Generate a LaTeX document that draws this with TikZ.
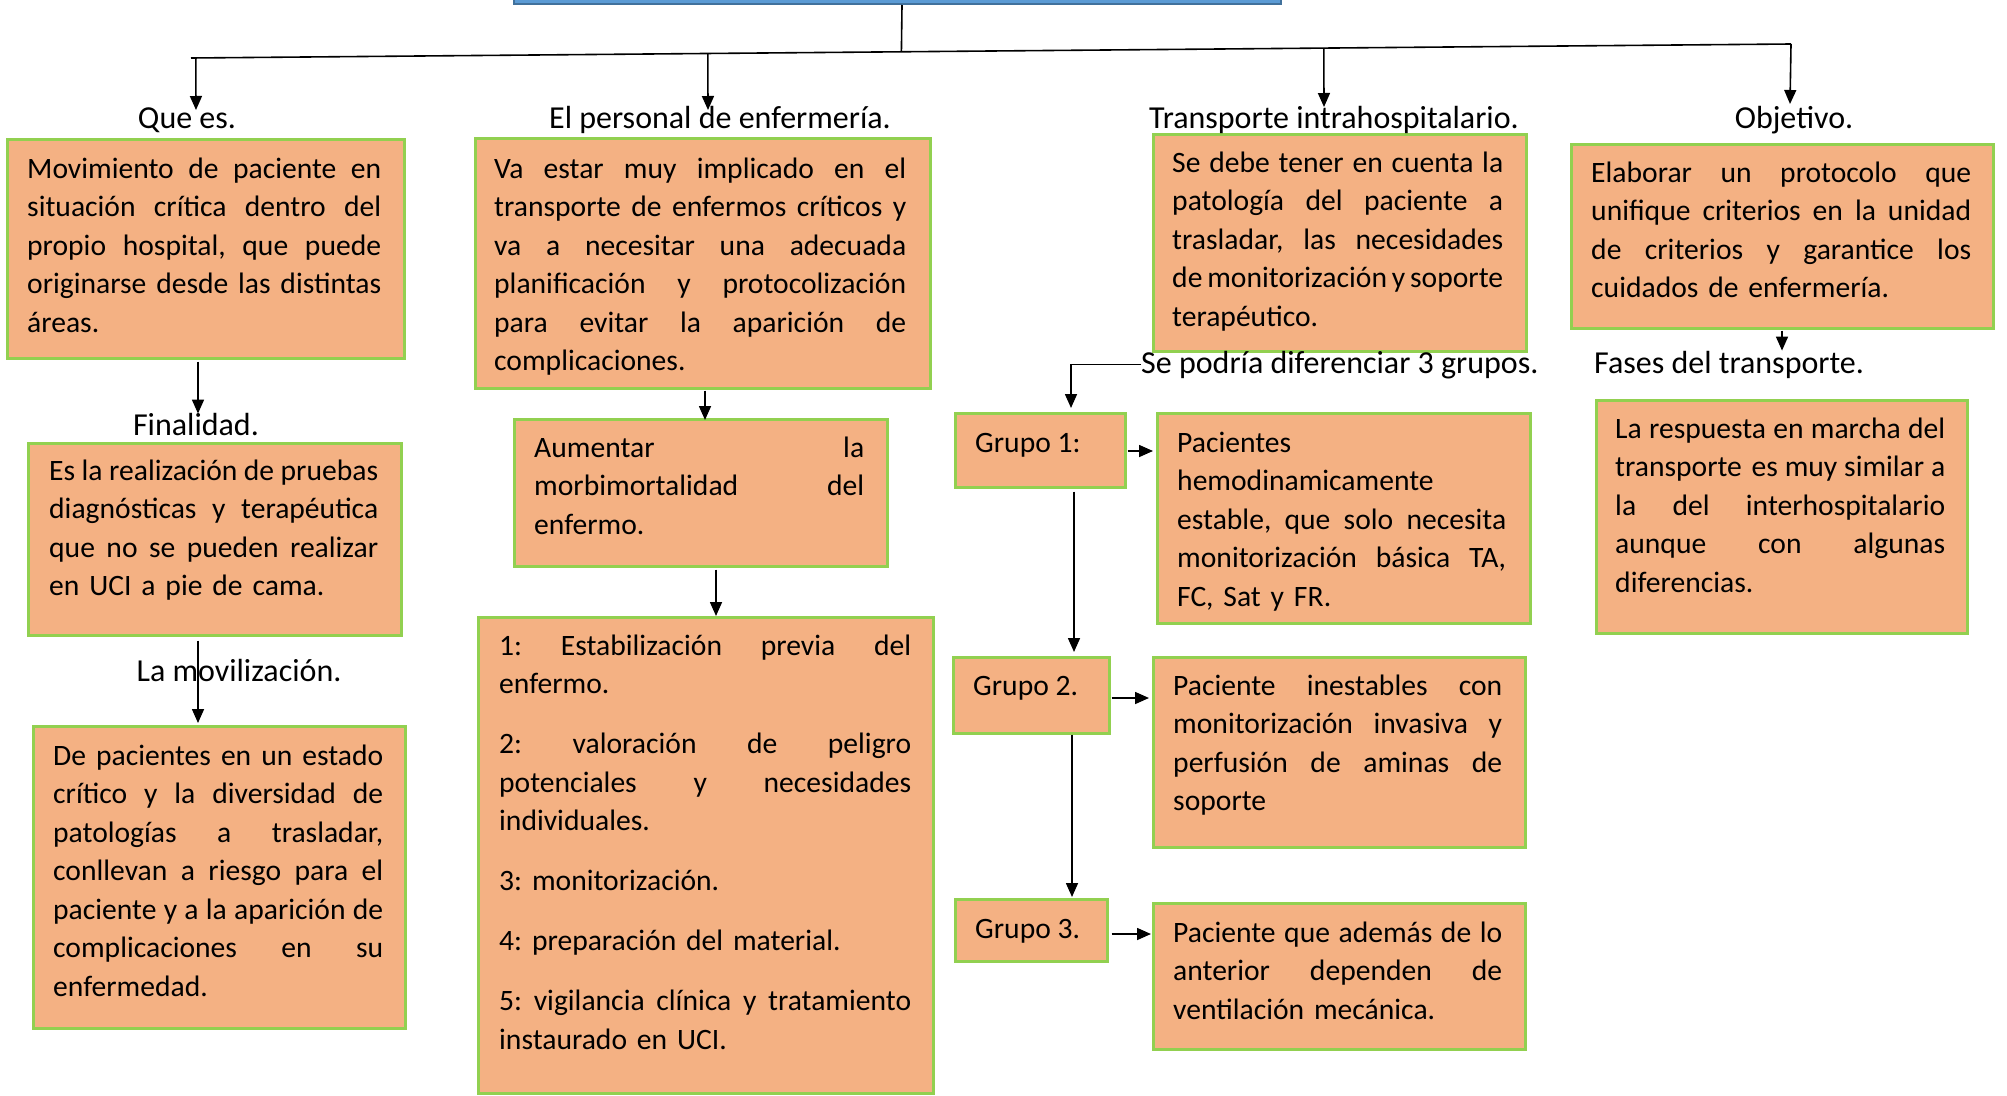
\documentclass[tikz,border=0pt]{standalone}
\usepackage{fontspec}
\setmainfont{Carlito}
\usetikzlibrary{arrows.meta,calc}
\setlength{\parindent}{0pt}
\frenchspacing
\newcommand\jl[1]{\hbox to\hsize{\spaceskip=0pt\xspaceskip=0pt #1}\par}
\hbadness=10000 \hfuzz=20pt
\definecolor{boxfill}{RGB}{244,177,131}
\definecolor{boxline}{RGB}{146,208,80}
\definecolor{topfill}{RGB}{91,155,213}
\definecolor{topline}{RGB}{65,113,156}
\tikzset{
  box/.style={draw=boxline, line width=2.5pt, fill=boxfill, rectangle, inner sep=0pt, anchor=north west},
  txt/.style={font=\fontsize{29.6}{38.5}\selectfont\frenchspacing, inner sep=0pt, anchor=base west, align=left},
  lab/.style={font=\fontsize{32}{38}\selectfont, inner sep=0pt, anchor=base},
  arr/.style={line width=1.6pt, -{Triangle[length=14pt,width=12pt]}},
  ln/.style={line width=1.6pt},
}
\begin{document}
\begin{tikzpicture}[x=1pt,y=-1pt]
\useasboundingbox (0,0) rectangle (2007,1095);
\clip (0,0) rectangle (2007,1095);
\fill[white] (0,0) rectangle (2007,1095);

% top box
\node[draw=topline, fill=topfill, line width=2pt, minimum width=767pt, minimum height=60pt, inner sep=0pt, anchor=south west] (top) at (513,5) {};

% boxes
\node[box, minimum width=397pt, minimum height=219pt] (b1) at (6,138) {};
\node[box, minimum width=455pt, minimum height=250pt] (b2) at (474,137) {};
\node[box, minimum width=373pt, minimum height=217pt] (b3) at (1152,133) {};
\node[box, minimum width=422pt, minimum height=184pt] (b4) at (1570,143) {};
\node[box, minimum width=373pt, minimum height=192pt] (b5) at (27,442) {};
\node[box, minimum width=372pt, minimum height=302pt] (b6) at (32,725) {};
\node[box, minimum width=373pt, minimum height=147pt] (b8) at (513,418) {};
\node[box, minimum width=455pt, minimum height=476pt] (b9) at (477,616) {};
\node[box, minimum width=170pt, minimum height=74pt] (g1) at (954,412) {};
\node[box, minimum width=373pt, minimum height=210pt] (p1) at (1156,412) {};
\node[box, minimum width=156pt, minimum height=76pt] (g2) at (952,656) {};
\node[box, minimum width=372pt, minimum height=190pt] (p2) at (1152,656) {};
\node[box, minimum width=152pt, minimum height=62pt] (g3) at (954,898) {};
\node[box, minimum width=372pt, minimum height=146pt] (p3) at (1152,902) {};
\node[box, minimum width=371pt, minimum height=233pt] (b7) at (1595,399) {};

% texts
\node[txt, text width=354pt] (t1) at (27,178) {\jl{Movimiento de paciente en}\jl{situación crítica dentro del}\jl{propio hospital, que puede}\jl{originarse desde las distintas}áreas.};
\node[txt, text width=412pt] (t2) at (494,178) {\jl{Va estar muy implicado en el}\jl{transporte de enfermos críticos y}\jl{va a necesitar una adecuada}\jl{planificación y protocolización}\jl{para evitar la aparición de}complicaciones.};
\node[txt, text width=331pt] (t3) at (1172,172) {\jl{Se debe tener en cuenta la}\jl{patología del paciente a}\jl{trasladar, las necesidades}\jl{de monitorización y soporte}terapéutico.};
\node[txt, text width=380pt] (t4) at (1591,182) {\jl{Elaborar un protocolo que}\jl{unifique criterios en la unidad}\jl{de criterios y garantice los}cuidados de enfermería.};
\node[txt, text width=329pt] (t5) at (49,480) {\jl{Es la realización de pruebas}\jl{diagnósticas y terapéutica}\jl{que no se pueden realizar}en UCI a pie de cama.};
\node[txt, text width=330pt] (t6) at (53,765) {\jl{De pacientes en un estado}\jl{crítico y la diversidad de}\jl{patologías a trasladar,}\jl{conllevan a riesgo para el}\jl{paciente y a la aparición de}\jl{complicaciones en su}enfermedad.};
\node[txt, text width=330pt] (t8) at (534,457) {\jl{Aumentar la}\jl{morbimortalidad del}enfermo.};
\node[txt, text width=412pt] (t9) at (499,655) {\jl{1: Estabilización previa del}enfermo.\par\vspace{21.5pt}\jl{2: valoración de peligro}\jl{potenciales y necesidades}individuales.\par\vspace{21.5pt}3: monitorización.\par\vspace{21.5pt}4: preparación del material.\par\vspace{21.5pt}\jl{5: vigilancia clínica y tratamiento}instaurado en UCI.};
\node[txt] (tg1) at (975,452) {Grupo 1:};
\node[txt] (tg2) at (973,695) {Grupo 2.};
\node[txt] (tg3) at (975,938) {Grupo 3.};
\node[txt, text width=329pt] (tp1) at (1177,452) {Pacientes\par hemodinamicamente\par\jl{estable, que solo necesita}\jl{monitorización básica TA,}FC, Sat y FR.};
\node[txt, text width=329pt] (tp2) at (1173,695) {\jl{Paciente inestables con}\jl{monitorización invasiva y}\jl{perfusión de aminas de}soporte};
\node[txt, text width=329pt] (tp3) at (1173,942) {\jl{Paciente que además de lo}\jl{anterior dependen de}ventilación mecánica.};
\node[txt, text width=330pt] (t7) at (1615,438) {\jl{La respuesta en marcha del}\jl{transporte\hspace{3pt} es muy similar a}\jl{la del interhospitalario}\jl{aunque con algunas}diferencias.};

% labels
\node[lab] (lq) at (187,128) {Que es.};
\node[lab] (lp) at (720,128) {El personal de enfermería.};
\node[lab] (lt) at (1334,128) {Transporte intrahospitalario.};
\node[lab] (lo) at (1794,128) {Objetivo.};
\node[lab] (lf) at (196,435) {Finalidad.};
\node[lab] (lm) at (239,681) {La movilización.};
\node[lab, anchor=base west] (ls) at (1141,373) {Se podría diferenciar 3 grupos.};
\node[lab, anchor=base west] (lfa) at (1594,373) {Fases del transporte.};

% top connectors
\coordinate (hl) at (191,58);
\coordinate (hr) at (1791,44);
\draw[ln] (hl) -- (hr);
\draw[ln] ([xshift=4.5pt]top.south) -- ($(hl)!0.444!(hr)$);
\coordinate (e1) at (196,110);
\coordinate (e2) at (708,110);
\coordinate (e3) at (1324,107);
\coordinate (e4) at (1790,104);
\draw[arr] ($(hl)!0.003!(hr)$) -- (e1);
\draw[arr] ($(hl)!0.323!(hr)$) -- (e2);
\draw[arr] ($(hl)!0.708!(hr)$) -- (e3);
\draw[arr] (hr) -- (e4);

% vertical x positions
\coordinate (x198) at (198,0);
\coordinate (x705) at (705,0);
\coordinate (x716) at (716,0);
\coordinate (x1071) at (1071,0);
\coordinate (x1074) at (1074,0);
\coordinate (x1072) at (1072,0);
\coordinate (x1782) at (1782,0);
\coordinate (y451) at (0,451);
\coordinate (y698) at (0,698);
\coordinate (y934) at (0,934);

\draw[arr, shorten <=2pt] (b1.south -| x198) -- ([yshift=-1pt]lf.north -| x198);
\draw[arr, shorten <=4pt, shorten >=2pt] (b5.south -| x198) -- (b6.north -| x198);
\draw[arr, shorten <=1pt, shorten >=-2pt] (b2.south -| x705) -- (b8.north -| x705);
\draw[arr, shorten <=2pt] (b8.south -| x716) -- (b9.north -| x716);
\draw[arr, shorten <=1pt] (b4.south -| x1782) -- (lfa.north -| x1782);
\draw[arr, shorten >=4pt] (ls.west) -| (g1.north -| x1071);
\draw[arr, shorten <=3pt, shorten >=4pt] (g1.south -| x1074) -- (g2.north -| x1074);
\draw[arr, shorten >=1pt] (g2.south -| x1072) -- (g3.north -| x1072);
\draw[arr, shorten <=1pt, shorten >=3pt] (g1.east |- y451) -- (p1.west |- y451);
\draw[arr, shorten <=1pt, shorten >=3pt] (g2.east |- y698) -- (p2.west |- y698);
\draw[arr, shorten <=3pt, shorten >=1pt] (g3.east |- y934) -- (p3.west |- y934);
\end{tikzpicture}
\end{document}
